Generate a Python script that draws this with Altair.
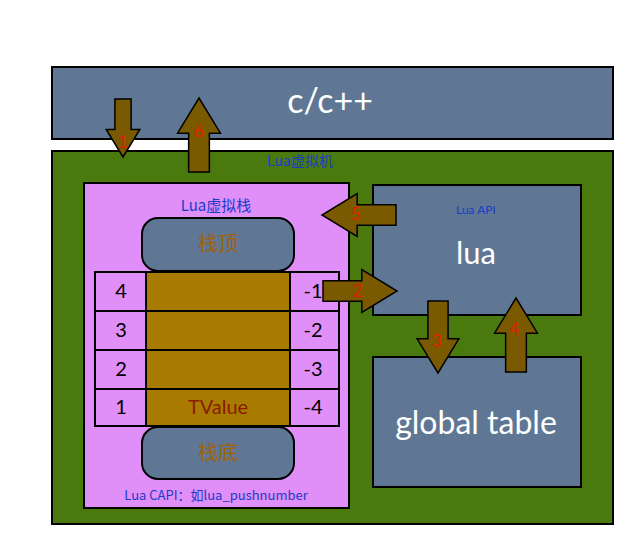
import altair as alt
import pandas as pd

SLATE = "#5f7794"
# boxes: x, x2, y, y2 (image-like coordinates), fill
box_x = [52, 52, 84, 373, 373, 95, 146, 290, 95, 146, 290, 95, 146, 290, 95, 146, 290]
box_x2 = [613, 613, 349, 581, 581, 146, 290, 339, 146, 290, 339, 146, 290, 339, 146, 290, 339]
box_y = [67, 151, 183, 185, 357, 272, 272, 272, 311, 311, 311, 350, 350, 350, 389, 389, 389]
box_y2 = [139, 524, 508, 315, 487, 311, 311, 311, 350, 350, 350, 389, 389, 389, 426, 426, 426]
box_fill = [SLATE, "#4a7a0e", "#e08ef8", SLATE, SLATE] + ["#e08ef8", "#a87a00", "#e08ef8"] * 4

# rounded boxes (栈顶 / 栈底)
rbox_x = [142, 142]
rbox_x2 = [294, 294]
rbox_y = [218, 427]
rbox_y2 = [271, 479]

# latin texts
lat_text = ["c/c++", "lua", "global table", "Lua API", "4", "3", "2", "1", "-1", "-2", "-3", "-4", "TValue"]
lat_x = [330, 476, 476, 476, 121, 121, 121, 121, 313, 313, 313, 313, 218]
lat_y = [103, 255, 424, 210, 292, 331, 370, 408, 292, 331, 370, 408, 408]
lat_size = [34, 31, 32, 12, 20, 20, 20, 20, 20, 20, 20, 20, 20]
lat_color = ["white", "white", "white", "#1a3cc8"] + ["black"] * 8 + ["#8b1a00"]

# CJK texts
cjk_text = ["Lua虚拟机", "Lua虚拟栈", "栈顶", "栈底", "Lua CAPI：如lua_pushnumber"]
cjk_x = [300, 216, 218, 218, 216]
cjk_y = [162, 206, 245, 454, 496]
cjk_size = [14, 15, 20, 20, 13]
cjk_color = ["#1a3cc8", "#1a3cc8", "#a0620a", "#a0620a", "#1a3cc8"]

# arrows: center, length, direction angle (0 = down), label
arr_x = [123, 360, 438, 516, 359, 199]
arr_y = [128, 291, 337, 335, 215, 135]
arr_len = [58, 74, 72, 74, 74, 74]
arr_angle = [0, 270, 0, 180, 90, 180]
arr_label = ["1", "2", "3", "4", "5", "6"]
lab_x = [123, 358, 437, 515, 356, 199]
lab_y = [143, 292, 342, 330, 215, 132]

W, H = 622, 526
xs = alt.Scale(domain=[8, 630], nice=False, zero=False)
ys = alt.Scale(domain=[8, 534], nice=False, zero=False, reverse=True)
noax = dict(axis=None)

boxes = pd.DataFrame({"x": box_x, "x2": box_x2, "y": box_y, "y2": box_y2, "fill": box_fill})
rboxes = pd.DataFrame({"x": rbox_x, "x2": rbox_x2, "y": rbox_y, "y2": rbox_y2})
lat = pd.DataFrame({"t": lat_text, "x": lat_x, "y": lat_y, "s": lat_size, "c": lat_color})
cjk = pd.DataFrame({"t": cjk_text, "x": cjk_x, "y": cjk_y, "s": cjk_size, "c": cjk_color})
arrows = pd.DataFrame({"x": arr_x, "y": arr_y, "size": [l * l for l in arr_len], "angle": arr_angle})
labels = pd.DataFrame({"t": arr_label, "x": lab_x, "y": lab_y})

rect = alt.Chart(boxes).mark_rect(stroke="black", strokeWidth=2).encode(
    x=alt.X("x:Q", scale=xs, **noax), x2="x2", y=alt.Y("y:Q", scale=ys, **noax), y2="y2",
    color=alt.Color("fill:N", scale=None),
)
rrect = alt.Chart(rboxes).mark_rect(stroke="black", strokeWidth=2, fill=SLATE, cornerRadius=16).encode(
    x=alt.X("x:Q", scale=xs, **noax), x2="x2", y=alt.Y("y:Q", scale=ys, **noax), y2="y2",
)
ARROW = "M-0.28,-1 L0.28,-1 L0.28,0.05 L0.58,0.05 L0,1 L-0.58,0.05 L-0.28,0.05 Z"
arr = alt.Chart(arrows).mark_point(shape=ARROW, filled=True, fill="#7a5a00", stroke="black",
                                   strokeWidth=1.5, opacity=1).encode(
    x=alt.X("x:Q", scale=xs, **noax), y=alt.Y("y:Q", scale=ys, **noax),
    size=alt.Size("size:Q", scale=None), angle=alt.Angle("angle:Q", scale=None),
)
lt = alt.Chart(lat).mark_text(font="Lato", baseline="middle").encode(
    x=alt.X("x:Q", scale=xs, **noax), y=alt.Y("y:Q", scale=ys, **noax), text="t:N",
    size=alt.Size("s:Q", scale=None), color=alt.Color("c:N", scale=None),
)
ct = alt.Chart(cjk).mark_text(font="Noto Sans CJK SC", baseline="middle").encode(
    x=alt.X("x:Q", scale=xs, **noax), y=alt.Y("y:Q", scale=ys, **noax), text="t:N",
    size=alt.Size("s:Q", scale=None), color=alt.Color("c:N", scale=None),
)
lb = alt.Chart(labels).mark_text(font="Lato", fontSize=18, color="#e02000", baseline="middle").encode(
    x=alt.X("x:Q", scale=xs, **noax), y=alt.Y("y:Q", scale=ys, **noax), text="t:N",
)

chart = alt.layer(rect, rrect, lt, ct, arr, lb).properties(
    width=W, height=H, padding=0, autosize="none"
).configure_view(stroke=None)
chart.save("out.html", embed_options={"renderer": "svg", "actions": False})
